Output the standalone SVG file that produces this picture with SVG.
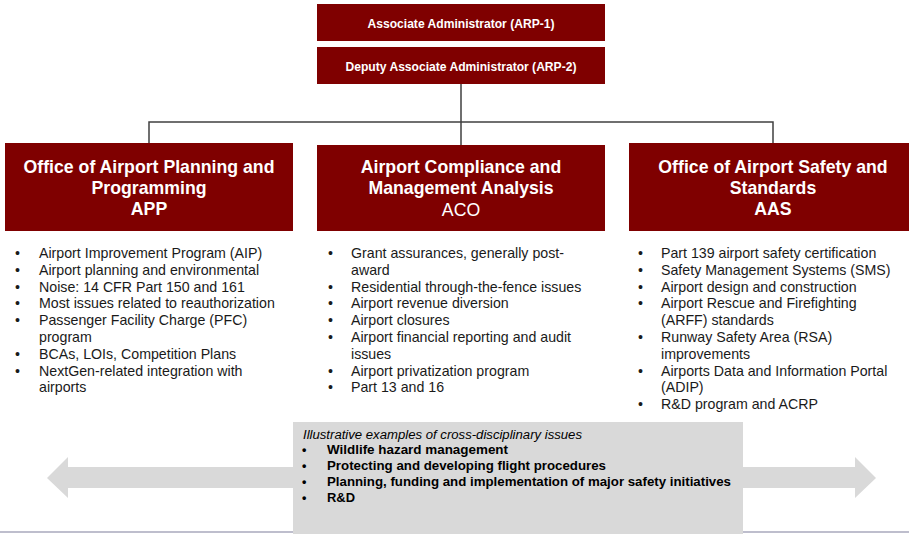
<svg xmlns="http://www.w3.org/2000/svg" width="909" height="534" viewBox="0 0 909 534">
<style>
.box{fill:#7f0000}
.t{font-family:"Liberation Sans",Arial,sans-serif;fill:#ffffff;text-anchor:middle}
.tb{font-weight:bold;font-size:17.7px}
.top{font-weight:bold;font-size:12.1px}
.li{font-family:"Liberation Sans",Arial,sans-serif;font-size:14.2px;fill:#1a1a1a}
.conn{fill:none;stroke:#404040;stroke-width:1.5}
.gray{fill:#d9d9d9}
.gb{font-family:"Liberation Sans",Arial,sans-serif;font-size:12.5px;font-weight:bold;fill:#000}
.gi{font-family:"Liberation Sans",Arial,sans-serif;font-size:12px;font-style:italic;fill:#000}
</style>
<rect width="909" height="534" fill="#ffffff"/>
<g id="connectors">
<path class="conn" d="M461,84 V122 M149,143 V122 H773 V143 M461,122 V145"/>
</g>
<g id="arp1">
<rect class="box" x="317" y="4" width="288" height="37"/>
<text class="t top" x="461" y="28">Associate Administrator (ARP-1)</text>
</g>
<g id="arp2">
<rect class="box" x="317" y="47" width="288" height="37"/>
<text class="t top" x="461" y="71">Deputy Associate Administrator (ARP-2)</text>
</g>
<g id="app">
<rect class="box" x="5" y="143" width="288" height="88"/>
<text class="t tb" x="149" y="173">Office of Airport Planning and</text>
<text class="t tb" x="149" y="194">Programming</text>
<text class="t tb" x="149" y="215">APP</text>
</g>
<g id="aco">
<rect class="box" x="317" y="145" width="288" height="86"/>
<text class="t tb" x="461" y="173">Airport Compliance and</text>
<text class="t tb" x="461" y="194">Management Analysis</text>
<text class="t" style="font-size:17.7px" x="461" y="216">ACO</text>
</g>
<g id="aas">
<rect class="box" x="629" y="143" width="288" height="88"/>
<text class="t tb" x="773" y="173">Office of Airport Safety and</text>
<text class="t tb" x="773" y="194">Standards</text>
<text class="t tb" x="773" y="215">AAS</text>
</g>
<g id="app-list" class="li">
<text x="15" y="258">•</text><text x="39" y="258">Airport Improvement Program (AIP)</text>
<text x="15" y="274.8">•</text><text x="39" y="274.8">Airport planning and environmental</text>
<text x="15" y="291.6">•</text><text x="39" y="291.6">Noise: 14 CFR Part 150 and 161</text>
<text x="15" y="308.4">•</text><text x="39" y="308.4">Most issues related to reauthorization</text>
<text x="15" y="325.2">•</text><text x="39" y="325.2">Passenger Facility Charge (PFC)</text>
<text x="39" y="342">program</text>
<text x="15" y="358.8">•</text><text x="39" y="358.8">BCAs, LOIs, Competition Plans</text>
<text x="15" y="375.6">•</text><text x="39" y="375.6">NextGen-related integration with</text>
<text x="39" y="392.4">airports</text>
</g>
<g id="aco-list" class="li">
<text x="328" y="258">•</text><text x="351" y="258">Grant assurances, generally post-</text>
<text x="351" y="274.8">award</text>
<text x="328" y="291.6">•</text><text x="351" y="291.6">Residential through-the-fence issues</text>
<text x="328" y="308.4">•</text><text x="351" y="308.4">Airport revenue diversion</text>
<text x="328" y="325.2">•</text><text x="351" y="325.2">Airport closures</text>
<text x="328" y="342">•</text><text x="351" y="342">Airport financial reporting and audit</text>
<text x="351" y="358.8">issues</text>
<text x="328" y="375.6">•</text><text x="351" y="375.6">Airport privatization program</text>
<text x="328" y="392.4">•</text><text x="351" y="392.4">Part 13 and 16</text>
</g>
<g id="aas-list" class="li">
<text x="638" y="258">•</text><text x="661" y="258">Part 139 airport safety certification</text>
<text x="638" y="274.8">•</text><text x="661" y="274.8">Safety Management Systems (SMS)</text>
<text x="638" y="291.6">•</text><text x="661" y="291.6">Airport design and construction</text>
<text x="638" y="308.4">•</text><text x="661" y="308.4">Airport Rescue and Firefighting</text>
<text x="661" y="325.2">(ARFF) standards</text>
<text x="638" y="342">•</text><text x="661" y="342">Runway Safety Area (RSA)</text>
<text x="661" y="358.8">improvements</text>
<text x="638" y="375.6">•</text><text x="661" y="375.6">Airports Data and Information Portal</text>
<text x="661" y="392.4">(ADIP)</text>
<text x="638" y="409.2">•</text><text x="661" y="409.2">R&amp;D program and ACRP</text>
</g>
<g id="cross">
<line x1="0" y1="532" x2="909" y2="532" stroke="#a8a8bc" stroke-width="1.5"/>
<polygon class="gray" points="47,478 68,457 68,467 300,467 300,488 68,488 68,498"/>
<polygon class="gray" points="876,478 855,457 855,467 736,467 736,488 855,488 855,498"/>
<rect class="gray" x="293" y="422" width="450" height="112"/>
<text class="gi" x="303" y="439" textLength="279" lengthAdjust="spacingAndGlyphs">Illustrative examples of cross-disciplinary issues</text>
<text class="gb" x="302" y="454">•</text><text class="gb" x="327" y="454" textLength="181" lengthAdjust="spacingAndGlyphs">Wildlife hazard management</text>
<text class="gb" x="302" y="470">•</text><text class="gb" x="327" y="470" textLength="279" lengthAdjust="spacingAndGlyphs">Protecting and developing flight procedures</text>
<text class="gb" x="302" y="486">•</text><text class="gb" x="327" y="486" textLength="404" lengthAdjust="spacingAndGlyphs">Planning, funding and implementation of major safety initiatives</text>
<text class="gb" x="302" y="502">•</text><text class="gb" x="327" y="502" textLength="28" lengthAdjust="spacingAndGlyphs">R&amp;D</text>
</g>
</svg>
